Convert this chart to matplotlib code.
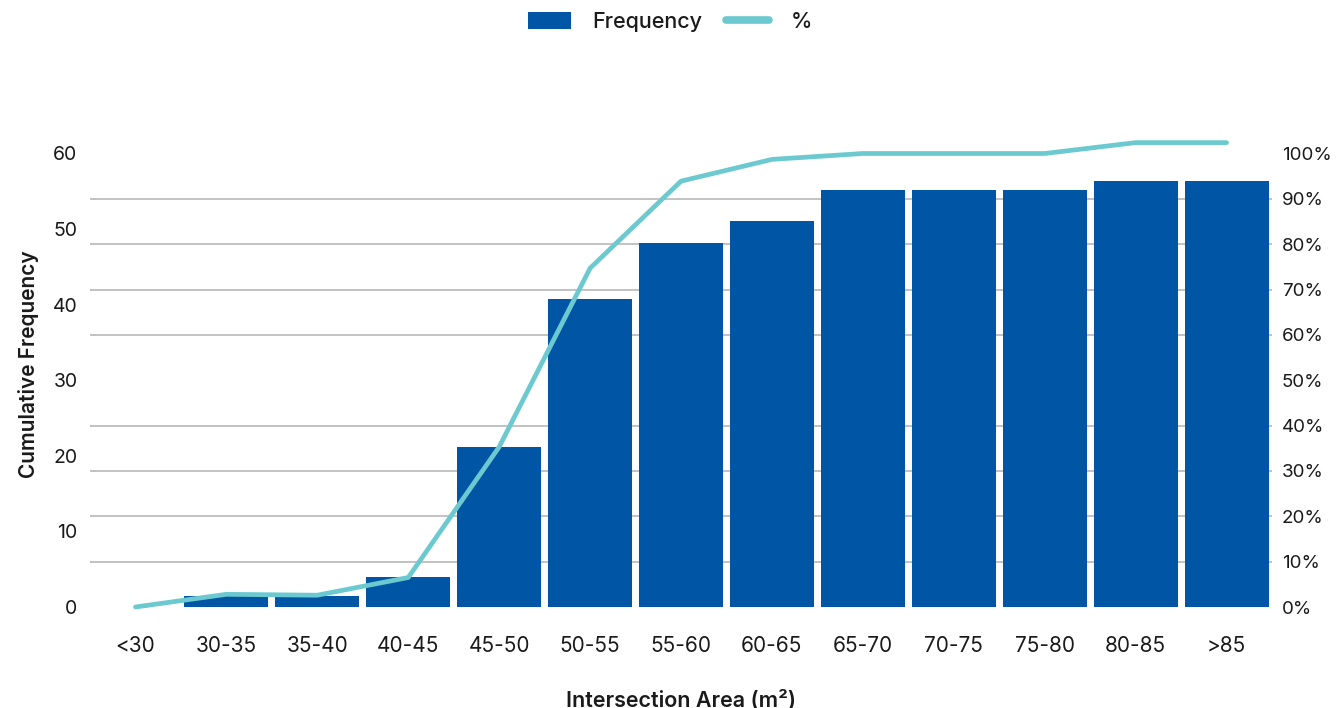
import matplotlib
matplotlib.use("Agg")
import matplotlib.pyplot as plt
from matplotlib.patches import Patch
from matplotlib.lines import Line2D

plt.rcParams["font.family"] = ["Inter", "DejaVu Sans"]

# Data
categories = ["<30", "30-35", "35-40", "40-45", "45-50", "50-55", "55-60",
              "60-65", "65-70", "70-75", "75-80", "80-85", ">85"]
cumulative_frequency = [0, 1.4, 1.4, 4.0, 21.2, 40.8, 48.1, 51.1, 55.2, 55.2, 55.2, 56.4, 56.4]
cumulative_percent = [0, 2.8, 2.6, 6.5, 35.3, 74.7, 93.9, 98.7, 100, 100, 100, 102.4, 102.4]
freq_ticks = [0, 10, 20, 30, 40, 50, 60]
pct_ticks = [0, 10, 20, 30, 40, 50, 60, 70, 80, 90, 100]

BAR_COLOR = "#0055A5"
LINE_COLOR = "#6CC9CF"
GRID_COLOR = "#BDBDBD"
TEXT_COLOR = "#1a1a1a"

W, H = 1340, 708
fig = plt.figure(figsize=(W / 100, H / 100), dpi=100)

top_scale = 1.07
freq_max = 60
ax_h_px = 453.5 * top_scale
ax = fig.add_axes([90 / W, 101 / H, 1182 / W, ax_h_px / H])

x = list(range(len(categories)))
ax.bar(x, cumulative_frequency, width=0.924, color=BAR_COLOR, zorder=3)
ax.set_xlim(-0.5, len(categories) - 0.5)
ax.set_ylim(0, freq_max * top_scale)

# Horizontal grid follows the percentage axis (every 10 %)
grid_vals = [p * freq_max / 100 for p in pct_ticks]
ax.set_yticks(grid_vals, minor=True)
ax.set_yticks(freq_ticks)
ax.grid(False)
ax.yaxis.grid(True, which="minor", color=GRID_COLOR, linewidth=1.3, zorder=0)
ax.set_axisbelow(True)
ax.tick_params(axis="y", which="both", length=0, pad=9, labelsize=14, labelcolor=TEXT_COLOR)
ax.set_xticks(x, categories)
ax.tick_params(axis="x", length=0, pad=21, labelsize=15, labelcolor=TEXT_COLOR)
for s in ax.spines.values():
    s.set_visible(False)

ax.set_ylabel("Cumulative Frequency", fontsize=15, fontweight="semibold",
              color=TEXT_COLOR, labelpad=10)
ax.set_xlabel("Intersection Area (m²)", fontsize=15.5, fontweight="semibold",
              color=TEXT_COLOR, labelpad=24)

ax2 = ax.twinx()
ax2.set_ylim(0, 100 * top_scale)
ax2.set_yticks(pct_ticks, [f"{p}%" for p in pct_ticks])
ax2.tick_params(axis="y", length=0, pad=7, labelsize=13.5, labelcolor=TEXT_COLOR)
for s in ax2.spines.values():
    s.set_visible(False)
ax2.plot(x, cumulative_percent, color=LINE_COLOR, linewidth=3.4,
         solid_capstyle="round", solid_joinstyle="round", clip_on=False, zorder=4)

handles = [Patch(facecolor=BAR_COLOR, edgecolor="none", label="Frequency"),
           Line2D([0], [0], color=LINE_COLOR, linewidth=5.5, solid_capstyle="round", label="%")]
fig.legend(handles=handles, loc="center", bbox_to_anchor=(0.5, 1 - 22 / H), ncol=2,
           frameon=False, handlelength=2.0, handleheight=0.8,
           handletextpad=1.0, columnspacing=1.1, labelcolor=TEXT_COLOR,
           prop={"size": 15.5, "weight": "medium"})

fig.savefig("out.png", dpi=100)
